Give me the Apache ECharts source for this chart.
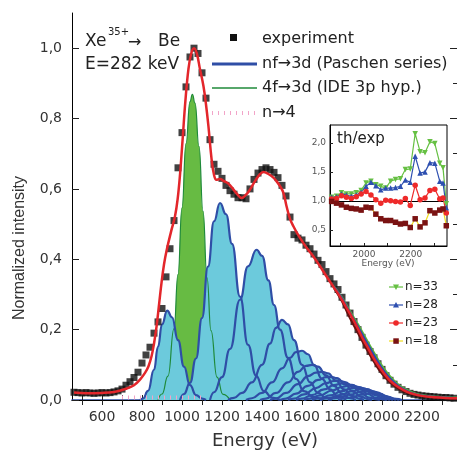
<!DOCTYPE html>
<html><head><meta charset="utf-8">
<script src="https://cdn.jsdelivr.net/npm/echarts@6/dist/echarts.min.js"></script>
<style>html,body{margin:0;padding:0;background:#fff}#c{width:457px;height:450px}</style>
</head><body><div id="c"></div>
<script>
// ---------- main plot data ----------
const xTicks = [500,600,700,800,900,1000,1100,1200,1300,1400,1500,1600,1700,1800,1900,2000,2100,2200,2300];
const xLabels = [600,800,1000,1200,1400,1600,1800,2000,2200];
const yMajor = [0,0.2,0.4,0.6,0.8,1.0];
const yMinor = [0.1,0.3,0.5,0.7,0.9];

const expE = [460,480,500,520,540,560,580,600,620,640,660,680,700,720,740,760,780,800,820,840,860,880,900,920,940,960,980,1000,1020,1040,1060,1080,1100,1120,1140,1160,1180,1200,1220,1240,1260,1280,1300,1320,1340,1360,1380,1400,1420,1440,1460,1480,1500,1520,1540,1560,1580,1600,1620,1640,1660,1680,1700,1720,1740,1760,1780,1800,1820,1840,1860,1880,1900,1920,1940,1960,1980,2000,2020,2040,2060,2080,2100,2120,2140,2160,2180,2200,2220,2240,2260,2280,2300,2320,2340,2360];
const expV = [0.022,0.021,0.02,0.021,0.02,0.019,0.02,0.021,0.02,0.021,0.023,0.026,0.031,0.042,0.052,0.064,0.079,0.105,0.128,0.15,0.19,0.222,0.26,0.35,0.43,0.51,0.66,0.76,0.89,0.975,1.0,0.985,0.93,0.858,0.74,0.67,0.65,0.63,0.61,0.595,0.585,0.575,0.575,0.572,0.6,0.627,0.645,0.655,0.66,0.655,0.647,0.632,0.61,0.58,0.52,0.47,0.46,0.455,0.44,0.43,0.415,0.397,0.385,0.365,0.345,0.33,0.314,0.292,0.27,0.247,0.223,0.2,0.178,0.156,0.138,0.12,0.103,0.087,0.069,0.056,0.045,0.036,0.029,0.024,0.019,0.016,0.014,0.012,0.011,0.01,0.009,0.008,0.007,0.007,0.006,0.005];

// total fit (n=23), red
const fitRed = [[460,0.021],[520,0.019],[600,0.02],[660,0.023],[720,0.032],[760,0.042],[790,0.058],[815,0.077],[832,0.095],[848,0.125],[860,0.16],[873,0.21],[886,0.275],[898,0.335],[910,0.385],[923,0.425],[945,0.478],[965,0.522],[978,0.57],[990,0.64],[1003,0.74],[1017,0.85],[1032,0.94],[1046,0.985],[1060,1.0],[1074,0.985],[1090,0.94],[1107,0.893],[1120,0.84],[1132,0.779],[1148,0.684],[1160,0.64],[1172,0.626],[1190,0.628],[1210,0.622],[1232,0.615],[1255,0.6],[1275,0.586],[1298,0.574],[1318,0.582],[1340,0.598],[1365,0.622],[1390,0.642],[1407,0.648],[1430,0.643],[1457,0.632],[1475,0.62],[1490,0.608],[1507,0.589],[1523,0.55],[1540,0.515],[1557,0.494],[1580,0.47],[1607,0.446],[1630,0.428],[1657,0.408],[1690,0.38],[1723,0.351],[1757,0.322],[1790,0.294],[1823,0.262],[1857,0.228],[1882,0.2],[1907,0.171],[1932,0.146],[1957,0.12],[1982,0.098],[2007,0.078],[2032,0.06],[2057,0.047],[2090,0.034],[2123,0.024],[2165,0.016],[2207,0.011],[2260,0.008],[2320,0.006],[2375,0.005]];
// tails of the other fits
const fit33 = [[1760,0.323],[1800,0.291],[1840,0.253],[1880,0.215],[1920,0.175],[1960,0.135],[2000,0.098],[2040,0.068],[2080,0.045],[2120,0.03],[2160,0.02],[2200,0.014],[2260,0.01],[2320,0.008],[2375,0.007]];
const fit28 = [[1760,0.322],[1800,0.289],[1840,0.249],[1880,0.209],[1920,0.168],[1960,0.128],[2000,0.091],[2040,0.062],[2080,0.041],[2120,0.027],[2160,0.018],[2200,0.013],[2260,0.009],[2320,0.007],[2375,0.006]];
const fit18 = [[1760,0.318],[1800,0.28],[1840,0.232],[1880,0.19],[1920,0.147],[1960,0.108],[2000,0.074],[2040,0.05],[2080,0.033],[2120,0.022],[2160,0.015],[2200,0.011],[2260,0.007],[2320,0.005],[2375,0.004]];

// 4f->3d component (green)
const green4f = [[880,0],[900,0.017],[930,0.068],[960,0.203],[980,0.357],[1000,0.546],[1020,0.729],[1040,0.848],[1052,0.869],[1065,0.844],[1085,0.721],[1105,0.537],[1125,0.348],[1145,0.197],[1175,0.065],[1205,0.016],[1240,0]];
// nf->3d Paschen series components (blue)
const b1 = [[790,0],[805,0.004],[830,0.026],[860,0.086],[880,0.151],[900,0.215],[926,0.254],[950,0.235],[980,0.17],[1010,0.095],[1040,0.042],[1070,0.014],[1100,0.004],[1120,0]];
const b2 = [[990,0],[1010,0.017],[1040,0.049],[1070,0.118],[1100,0.233],[1130,0.379],[1160,0.508],[1190,0.56],[1220,0.528],[1250,0.444],[1290,0.294],[1330,0.157],[1370,0.069],[1410,0.025],[1450,0.007],[1490,0]];
const b3 = [[1140,0],[1160,0.022],[1200,0.065],[1240,0.145],[1290,0.285],[1330,0.38],[1373,0.427],[1400,0.41],[1432,0.34],[1460,0.27],[1490,0.2],[1530,0.12],[1570,0.06],[1610,0.025],[1660,0.008],[1700,0]];
const b4 = [[1230,0],[1260,0.006],[1300,0.02],[1350,0.05],[1400,0.1],[1440,0.16],[1470,0.205],[1500,0.228],[1530,0.215],[1560,0.17],[1600,0.1],[1640,0.05],[1680,0.02],[1720,0.006],[1750,0]];
const b5 = [[1320,0],[1350,0.005],[1400,0.02],[1450,0.05],[1500,0.09],[1540,0.12],[1570,0.136],[1600,0.14],[1630,0.13],[1660,0.1],[1700,0.06],[1740,0.03],[1780,0.01],[1820,0]];
const b6 = [[1390,0],[1420,0.004],[1470,0.02],[1530,0.05],[1580,0.08],[1620,0.097],[1650,0.1],[1680,0.095],[1720,0.07],[1760,0.04],[1800,0.018],[1840,0.005],[1870,0]];
const b7 = [[1440,0],[1470,0.004],[1520,0.02],[1580,0.045],[1630,0.068],[1670,0.078],[1700,0.08],[1730,0.076],[1770,0.055],[1810,0.03],[1850,0.012],[1890,0.003],[1910,0]];
const b8 = [[1490,0],[1520,0.004],[1570,0.018],[1630,0.04],[1680,0.057],[1720,0.065],[1745,0.066],[1775,0.062],[1815,0.044],[1855,0.024],[1895,0.009],[1935,0.002],[1950,0]];
const b9 = [[1530,0],[1560,0.004],[1610,0.016],[1670,0.034],[1720,0.048],[1760,0.054],[1785,0.055],[1815,0.051],[1855,0.036],[1895,0.02],[1935,0.007],[1975,0.002],[1990,0]];
const b10 = [[1570,0],[1600,0.004],[1650,0.014],[1710,0.03],[1760,0.042],[1800,0.047],[1820,0.047],[1850,0.043],[1890,0.031],[1930,0.017],[1970,0.006],[2010,0.002],[2025,0]];
const b11 = [[1610,0],[1640,0.004],[1690,0.013],[1750,0.027],[1800,0.037],[1835,0.041],[1855,0.041],[1885,0.037],[1925,0.026],[1965,0.014],[2005,0.005],[2040,0]];
const b12 = [[1650,0],[1690,0.005],[1740,0.013],[1800,0.025],[1845,0.033],[1875,0.036],[1905,0.034],[1945,0.024],[1985,0.013],[2025,0.004],[2055,0]];
const b13 = [[1690,0],[1730,0.005],[1790,0.014],[1850,0.025],[1895,0.031],[1925,0.031],[1960,0.024],[2000,0.013],[2040,0.004],[2070,0]];
const b14 = [[1730,0],[1780,0.006],[1840,0.015],[1900,0.024],[1940,0.027],[1975,0.022],[2015,0.012],[2055,0.004],[2085,0]];
const b15 = [[1780,0],[1840,0.007],[1900,0.015],[1950,0.021],[1990,0.018],[2030,0.009],[2070,0.003],[2100,0]];
const blueComps = [b1,b2,b3,b4,b5,b6,b7,b8,b9,b10,b11,b12,b13,b14,b15];
// n->4 (pink dotted, near zero)
const pinkN4 = [[700,0.007],[1100,0.007]];

// ---------- inset th/exp data ----------
const insetE = [1862,1883,1904,1925,1946,1967,1988,2009,2030,2051,2072,2093,2114,2135,2156,2177,2198,2219,2240,2261,2282,2303,2324,2338,2352];
const r33 = [1.06,1.08,1.14,1.12,1.12,1.14,1.18,1.31,1.34,1.28,1.25,1.22,1.34,1.37,1.38,1.54,1.55,2.16,1.85,1.83,2.02,1.99,1.65,1.57,0.95];
const r28 = [1.06,1.07,1.12,1.1,1.08,1.1,1.15,1.25,1.32,1.26,1.19,1.22,1.22,1.23,1.25,1.36,1.32,1.77,1.48,1.5,1.66,1.65,1.34,1.31,0.88];
const r23 = [1.03,1.04,1.09,1.06,1.04,1.07,1.12,1.16,1.1,1.02,0.96,1.01,1.0,0.99,0.98,1.04,0.92,1.27,1.02,1.05,1.18,1.2,1.03,1.05,0.79];
const r18 = [0.99,0.96,0.93,0.89,0.87,0.86,0.84,0.89,0.88,0.77,0.69,0.66,0.66,0.63,0.6,0.61,0.54,0.69,0.55,0.62,0.83,0.79,0.84,0.86,0.57];
const insetYLabels = [0.5,1.0,1.5,2.0];
const insetXLabels = [2000,2200];
const insetXTicks = [1900,2000,2100,2200,2300];

// ---------- build ----------
const comma = v => v.toFixed(1).replace('.', ',');
const plain = v => String(v);
const F = '"DejaVu Sans", sans-serif';
const BLUE = '#2f4ea6', FILL = '#6ccadc';
const pair = (xs, ys) => xs.map((x,i)=>[x, ys[i]]);

const series = [];
series.push({type:'line', data:green4f, smooth:0.5, smoothMonotone:'x', symbol:'none',
  lineStyle:{color:'#1f8a3a', width:1.2}, areaStyle:{color:'#67bb43', opacity:1}, z:2});
blueComps.forEach(c => series.push({type:'line', data:c, smooth:0.5, smoothMonotone:'x', symbol:'none',
  lineStyle:{color:BLUE, width:2.2}, areaStyle:{color:FILL, opacity:1}, z:2}));
series.push({type:'line', data:pinkN4, symbol:'none', lineStyle:{color:'#f2a4c8', width:4, type:[1,5], cap:'butt'}, z:3});
series.push({type:'scatter', data:pair(expE, expV), symbol:'rect', symbolSize:7, itemStyle:{color:'#111'}, z:4});
series.push({type:'line', data:fit33, smooth:0.4, symbol:'none', lineStyle:{color:'#5cb83a', width:2}, z:5});
series.push({type:'line', data:fit28, smooth:0.4, symbol:'none', lineStyle:{color:'#2c48b0', width:2}, z:5});
series.push({type:'line', data:fit18, smooth:0.4, symbol:'none', lineStyle:{color:'#6b1010', width:2}, z:5});
series.push({type:'line', data:fitRed, smooth:0.4, symbol:'none', lineStyle:{color:'#e3262b', width:2.5}, z:6});

const insetCommon = {type:'line', xAxisIndex:2, yAxisIndex:4, symbolSize:5.5, z:7, clip:true};
series.push(Object.assign({}, insetCommon, {name:'n=33', data:pair(insetE,r33), symbol:'triangle', symbolRotate:180,
  itemStyle:{color:'#66c043'}, lineStyle:{color:'#66c043', width:1.2}}));
series.push(Object.assign({}, insetCommon, {name:'n=28', data:pair(insetE,r28), symbol:'triangle',
  itemStyle:{color:'#2d4fb0'}, lineStyle:{color:'#2d4fb0', width:1.2}}));
series.push(Object.assign({}, insetCommon, {name:'n=23', data:pair(insetE,r23), symbol:'circle',
  itemStyle:{color:'#ee2a2a'}, lineStyle:{color:'#ee2a2a', width:1.2},
  markLine:{silent:true, symbol:'none', label:{show:false}, lineStyle:{color:'#000', width:1, type:'solid'}, data:[{yAxis:1}]}}));
series.push(Object.assign({}, insetCommon, {name:'n=18', data:pair(insetE,r18), symbol:'rect',
  itemStyle:{color:'#7a1212'}, lineStyle:{color:'#f0dc20', width:1.2}}));

const tickStyle = {color:'#222', width:1};
const option = {
  animation:false,
  grid:[
    {left:72, top:13, right:0, height:387},
    {left:330, top:125, width:117, height:121, show:true, backgroundColor:'#fff', borderColor:'#000', borderWidth:1}
  ],
  xAxis:[
    {type:'value', gridIndex:0, min:450, max:2375, splitLine:{show:false},
     axisLine:{lineStyle:{color:BLUE, width:1.5}},
     axisTick:{inside:true, length:5, customValues:xTicks, lineStyle:tickStyle},
     axisLabel:{customValues:xLabels, formatter:plain, fontSize:14, fontFamily:F, color:'#333', margin:10}},
    {type:'value', gridIndex:0, position:'top', min:450, max:2375, splitLine:{show:false},
     axisLine:{lineStyle:{color:'#000'}},
     axisTick:{inside:true, length:5, customValues:xTicks, lineStyle:tickStyle}, axisLabel:{show:false}},
    {type:'value', gridIndex:1, min:1855, max:2355, splitLine:{show:false},
     axisLine:{lineStyle:{color:'#000'}},
     axisTick:{inside:true, length:3, customValues:insetXTicks, lineStyle:tickStyle},
     axisLabel:{customValues:insetXLabels, formatter:plain, fontSize:9, fontFamily:F, color:'#555', margin:4}}
  ],
  yAxis:[
    {type:'value', gridIndex:0, min:0, max:1.1, splitLine:{show:false},
     axisLine:{lineStyle:{color:'#000'}},
     axisTick:{inside:true, length:7, customValues:yMajor, lineStyle:tickStyle},
     axisLabel:{customValues:yMajor, formatter:comma, fontSize:14, fontFamily:F, color:'#333', margin:10}},
    {type:'value', gridIndex:0, min:0, max:1.1, splitLine:{show:false}, axisLine:{show:false},
     axisTick:{inside:true, length:4, customValues:yMinor, lineStyle:tickStyle}, axisLabel:{show:false}},
    {type:'value', gridIndex:0, position:'right', min:0, max:1.1, splitLine:{show:false},
     axisLine:{lineStyle:{color:'#000'}},
     axisTick:{inside:true, length:7, customValues:yMajor, lineStyle:tickStyle}, axisLabel:{show:false}},
    {type:'value', gridIndex:0, position:'right', min:0, max:1.1, splitLine:{show:false}, axisLine:{show:false},
     axisTick:{inside:true, length:4, customValues:yMinor, lineStyle:tickStyle}, axisLabel:{show:false}},
    {type:'value', gridIndex:1, min:0.22, max:2.31, splitLine:{show:false},
     axisLine:{lineStyle:{color:'#000'}},
     axisTick:{inside:true, length:3, customValues:insetYLabels, lineStyle:tickStyle},
     axisLabel:{customValues:insetYLabels, formatter:comma, fontSize:9, fontFamily:F, color:'#555', margin:4}}
  ],
  series: series,
  graphic:{elements:[
    // axis titles
    {type:'text', x:265, y:441, style:{text:'Energy (eV)', font:'18px '+F, fill:'#333', align:'center', verticalAlign:'middle', textAlign:'center', textVerticalAlign:'middle'}},
    {type:'text', x:20, y:248, rotation:Math.PI/2, style:{text:'Normalized intensity', font:'16px "Liberation Sans", Arial, sans-serif', fill:'#333', align:'center', verticalAlign:'middle', textAlign:'center', textVerticalAlign:'middle'}},
    // annotation
    {type:'text', x:85, y:42, style:{text:'Xe', font:'17px '+F, fill:'#222', verticalAlign:'middle', textVerticalAlign:'middle'}},
    {type:'text', x:108, y:32, style:{text:'35+', font:'10px '+F, fill:'#222', verticalAlign:'middle', textVerticalAlign:'middle'}},
    {type:'text', x:128, y:43, style:{text:'→', font:'16px '+F, fill:'#222', verticalAlign:'middle', textVerticalAlign:'middle'}},
    {type:'text', x:158, y:42, style:{text:'Be', font:'17px '+F, fill:'#222', verticalAlign:'middle', textVerticalAlign:'middle'}},
    {type:'text', x:85, y:65, style:{text:'E=282 keV', font:'17px '+F, fill:'#222', verticalAlign:'middle', textVerticalAlign:'middle'}},
    // main legend
    {type:'rect', shape:{x:230, y:34, width:7, height:7}, style:{fill:'#111'}},
    {type:'text', x:262, y:39, style:{text:'experiment', font:'16px '+F, fill:'#222', verticalAlign:'middle', textVerticalAlign:'middle'}},
    {type:'line', shape:{x1:212, y1:64, x2:257, y2:64}, style:{stroke:BLUE, lineWidth:3}},
    {type:'text', x:262, y:64, style:{text:'nf→3d (Paschen series)', font:'16px '+F, fill:'#222', verticalAlign:'middle', textVerticalAlign:'middle'}},
    {type:'line', shape:{x1:212, y1:88, x2:257, y2:88}, style:{stroke:'#1f8a3a', lineWidth:1.5}},
    {type:'text', x:262, y:88, style:{text:'4f→3d (IDE 3p hyp.)', font:'16px '+F, fill:'#222', verticalAlign:'middle', textVerticalAlign:'middle'}},
    {type:'line', shape:{x1:212, y1:113, x2:257, y2:113}, style:{stroke:'#f2a4c8', lineWidth:4, lineDash:[1,5]}},
    {type:'text', x:262, y:113, style:{text:'n→4', font:'16px '+F, fill:'#222', verticalAlign:'middle', textVerticalAlign:'middle'}},
    // inset title & axis name
    {type:'text', x:337, y:139, z:20, style:{text:'th/exp', font:'15px '+F, fill:'#222', verticalAlign:'middle', textVerticalAlign:'middle'}},
    {type:'text', x:388, y:264, z:20, style:{text:'Energy (eV)', font:'9px '+F, fill:'#555', align:'center', verticalAlign:'middle', textAlign:'center', textVerticalAlign:'middle'}},
    // inset legend
    {type:'line', shape:{x1:389, y1:287, x2:403, y2:287}, style:{stroke:'#66c043', lineWidth:1.2}},
    {type:'polygon', shape:{points:[[393,284.5],[399,284.5],[396,290]]}, style:{fill:'#66c043'}},
    {type:'text', x:405, y:287, style:{text:'n=33', font:'12px '+F, fill:'#222', verticalAlign:'middle', textVerticalAlign:'middle'}},
    {type:'line', shape:{x1:389, y1:305, x2:403, y2:305}, style:{stroke:'#2d4fb0', lineWidth:1.2}},
    {type:'polygon', shape:{points:[[393,307.5],[399,307.5],[396,302]]}, style:{fill:'#2d4fb0'}},
    {type:'text', x:405, y:305, style:{text:'n=28', font:'12px '+F, fill:'#222', verticalAlign:'middle', textVerticalAlign:'middle'}},
    {type:'line', shape:{x1:389, y1:323, x2:403, y2:323}, style:{stroke:'#ee2a2a', lineWidth:1.2}},
    {type:'circle', shape:{cx:396, cy:323, r:2.8}, style:{fill:'#ee2a2a'}},
    {type:'text', x:405, y:323, style:{text:'n=23', font:'12px '+F, fill:'#222', verticalAlign:'middle', textVerticalAlign:'middle'}},
    {type:'line', shape:{x1:389, y1:341, x2:403, y2:341}, style:{stroke:'#f0dc20', lineWidth:1.2}},
    {type:'rect', shape:{x:393.3, y:338.3, width:5.5, height:5.5}, style:{fill:'#7a1212'}},
    {type:'text', x:405, y:341, style:{text:'n=18', font:'12px '+F, fill:'#222', verticalAlign:'middle', textVerticalAlign:'middle'}}
  ]}
};
const chart = echarts.init(document.getElementById('c'), null, {renderer:'canvas'});
chart.setOption(option);
</script></body></html>
